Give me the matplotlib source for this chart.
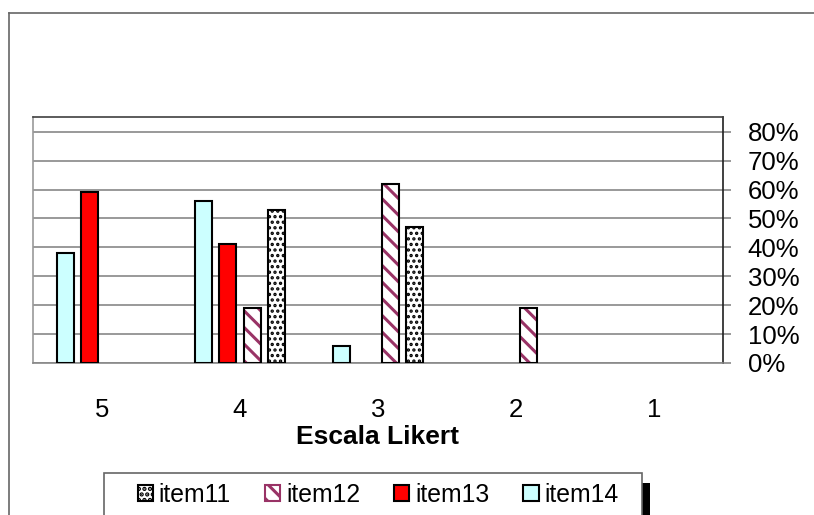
import matplotlib.pyplot as plt
import numpy as np
from matplotlib.patches import Rectangle, Patch
from matplotlib.lines import Line2D

plt.rcParams['font.family'] = ['Liberation Sans', 'DejaVu Sans']
plt.rcParams['hatch.linewidth'] = 2.2

# Escala Likert, da maior para a menor
categorias = ['5', '4', '3', '2', '1']
item11 = [0.00, 0.53, 0.47, 0.00, 0.00]
item12 = [0.00, 0.19, 0.62, 0.19, 0.00]
item13 = [0.59, 0.41, 0.00, 0.00, 0.00]
item14 = [0.38, 0.56, 0.06, 0.00, 0.00]
ticks_y = [0.0, 0.1, 0.2, 0.3, 0.4, 0.5, 0.6, 0.7, 0.8]

W, H = 814, 515
fig = plt.figure(figsize=(W / 100, H / 100), dpi=100)
ax = fig.add_axes([33 / W, 1 - 363 / H, (723 - 33) / W, (363 - 117) / H])

x = np.arange(len(categorias))
passo = 0.176
larg = 0.123


def barras(desloc, valores, **kw):
    # só desenha as barras com valor > 0 (sem traço na base para zeros)
    v = np.array(valores)
    m = v > 0
    return ax.bar(x[m] + desloc, v[m], larg, **kw)


# item14 e item13: cores sólidas
barras(-1.5 * passo, item14, color='#CCFFFF', edgecolor='black', linewidth=1.5, zorder=3)
barras(-0.5 * passo, item13, color='#FF0000', edgecolor='black', linewidth=1.5, zorder=3)
# item12: listras diagonais vinho (hachura separada da borda)
barras(0.5 * passo, item12, color='white', edgecolor='#993366', hatch='\\\\', linewidth=0, zorder=3)
barras(0.5 * passo, item12, fill=False, edgecolor='black', linewidth=1.5, zorder=4)
# item11: pontilhado
with plt.rc_context({'hatch.linewidth': 1.6}):
    barras(1.5 * passo, item11, color='white', edgecolor='black', hatch='...', linewidth=1.5, zorder=3)

ax.set_xlim(-0.5, 4.5)
ax.set_ylim(0, 0.851)
ax.set_xticks(x)
ax.set_xticklabels(categorias, fontsize=18.5)
ax.tick_params(axis='x', length=0, pad=25)

ax.yaxis.tick_right()
ax.set_yticks(ticks_y)
ax.set_yticklabels([f'{int(round(t * 100))}%' for t in ticks_y], fontsize=18.5)
ax.tick_params(axis='y', length=5.8, width=1.2, color='#888888', pad=12)
ax.grid(axis='y', color='#888888', linewidth=1.2, zorder=0)
ax.set_axisbelow(True)

ax.spines['left'].set_color('#999999')
ax.spines['bottom'].set_color('#888888')
ax.spines['top'].set_color('#404040')
ax.spines['right'].set_color('#202020')
for s in ax.spines.values():
    s.set_linewidth(1.2)

fig.text(378 / W, 1 - 437 / H, 'Escala Likert', ha='center', va='center',
         fontsize=19, fontweight='bold')

# moldura externa do gráfico
fig.add_artist(Line2D([9 / W, 1.0], [1 - 13 / H, 1 - 13 / H], color='#666666', linewidth=1.2))
fig.add_artist(Line2D([9 / W, 9 / W], [0, 1 - 13 / H], color='#666666', linewidth=1.2))

# caixa da legenda com sombra
fig.add_artist(Rectangle((642 / W, -0.1), 8 / W, (1 - 483 / H) + 0.1, transform=fig.transFigure,
                         facecolor='black', edgecolor='none'))
fig.add_artist(Rectangle((104 / W, -0.1), (642 - 104) / W, (1 - 473 / H) + 0.1, transform=fig.transFigure,
                         facecolor='white', edgecolor='#666666', linewidth=1.2))

handles = [
    Patch(facecolor='white', edgecolor='black', hatch='...', linewidth=1.5),
    Patch(facecolor='white', edgecolor='#993366', hatch='\\\\', linewidth=1.5),
    Patch(facecolor='#FF0000', edgecolor='black', linewidth=1.5),
    Patch(facecolor='#CCFFFF', edgecolor='black', linewidth=1.5),
]
leg = fig.legend(handles, ['item11', 'item12', 'item13', 'item14'], ncol=4,
                 loc='center left', bbox_to_anchor=(138 / W, 1 - 495 / H),
                 frameon=False, fontsize=17.8, handlelength=0.62, handleheight=0.62,
                 handletextpad=0.22, columnspacing=1.38, borderpad=0, borderaxespad=0)

fig.savefig('out.png', dpi=100)
